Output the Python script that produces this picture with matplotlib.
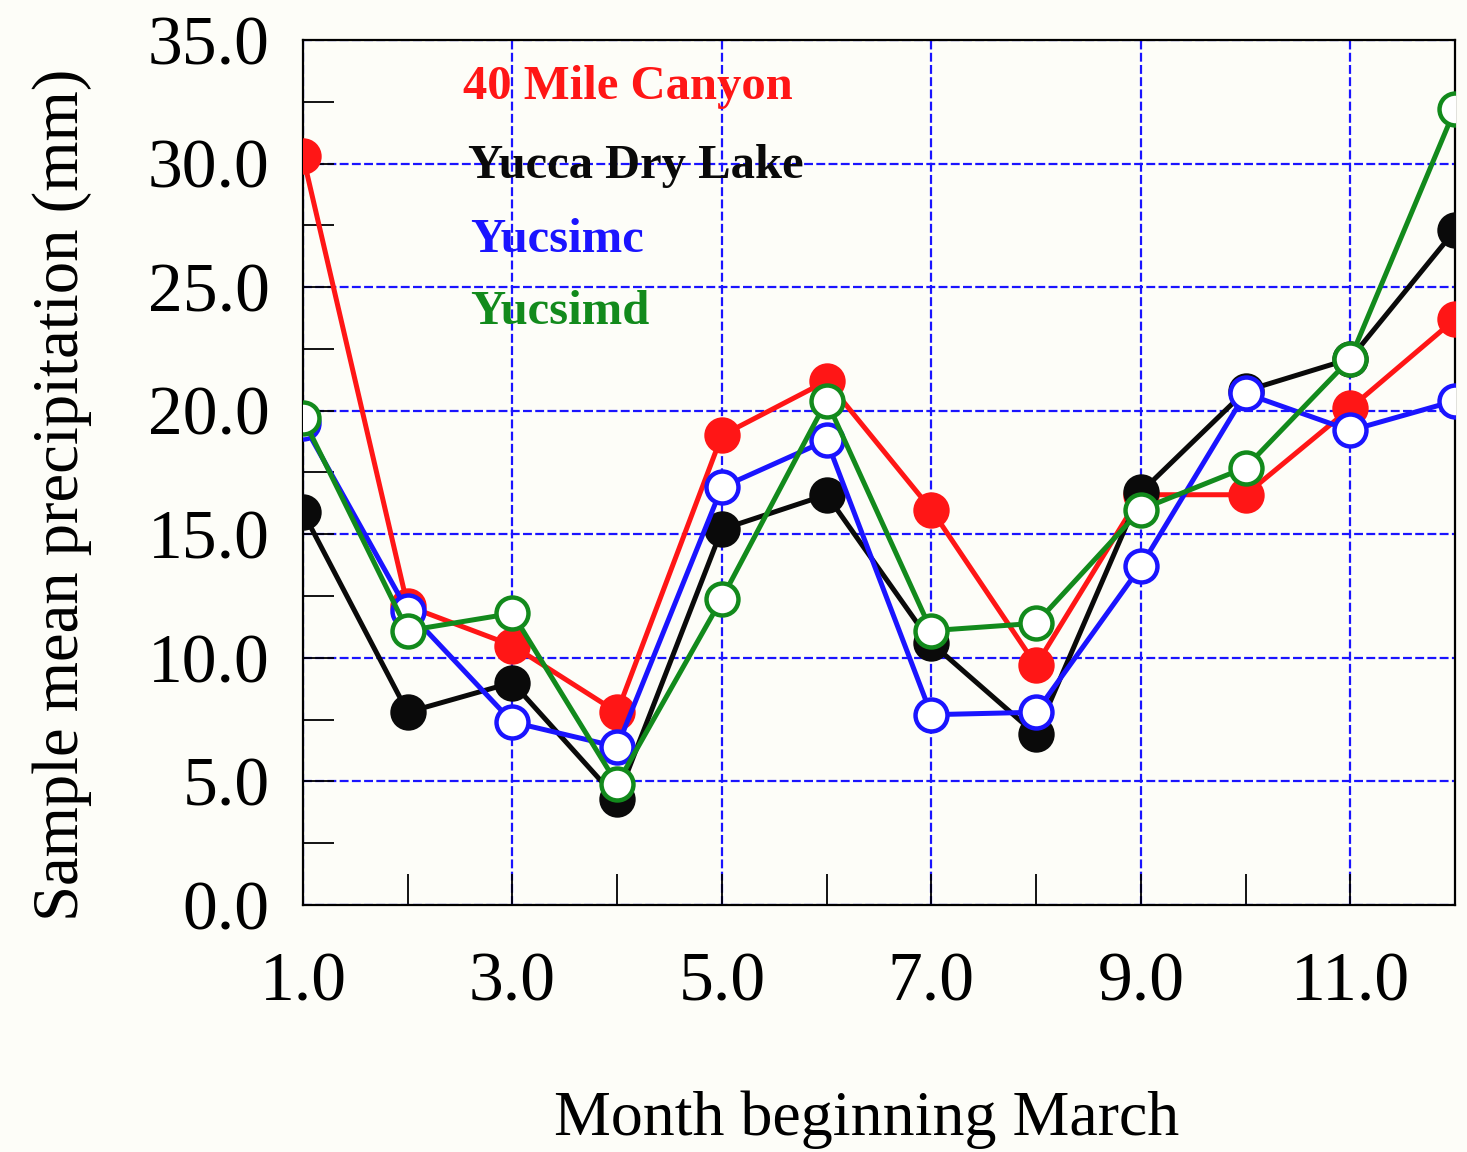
import matplotlib
matplotlib.use("Agg")
import matplotlib.pyplot as plt
from matplotlib.ticker import MultipleLocator, FixedLocator

# Monthly sample mean precipitation (mm), months counted from March
months = [1, 2, 3, 4, 5, 6, 7, 8, 9, 10, 11, 12]
mile40_canyon = [30.3, 12.1, 10.5, 7.8, 19.0, 21.2, 16.0, 9.7, 16.6, 16.6, 20.1, 23.7]
yucca_dry_lake = [15.9, 7.8, 9.0, 4.3, 15.2, 16.6, 10.6, 6.9, 16.7, 20.8, 22.1, 27.3]
yucsimc = [19.5, 11.9, 7.4, 6.4, 16.9, 18.8, 7.7, 7.8, 13.7, 20.7, 19.2, 20.4]
yucsimd = [19.7, 11.1, 11.8, 4.9, 12.4, 20.4, 11.1, 11.4, 16.0, 17.7, 22.1, 32.2]

series_names = ["40 Mile Canyon", "Yucca Dry Lake", "Yucsimc", "Yucsimd"]
x_ticks = [1, 3, 5, 7, 9, 11]
x_tick_labels = ["1.0", "3.0", "5.0", "7.0", "9.0", "11.0"]
y_ticks = [0, 5, 10, 15, 20, 25, 30, 35]
y_tick_labels = ["0.0", "5.0", "10.0", "15.0", "20.0", "25.0", "30.0", "35.0"]

RED = "#ff1616"
BLACK = "#0a0a0a"
BLUE = "#1a14ff"
GREEN = "#128a1c"
PAPER = "#fdfdf8"

plt.rcParams["font.family"] = ["Liberation Serif", "DejaVu Serif"]

fig = plt.figure(figsize=(14.67, 11.52), dpi=100, facecolor=PAPER)
ax = fig.add_axes([0.2065, 0.2144, 0.7853, 0.7509], facecolor=PAPER)

lw = 3.6
ms = 23
mew = 3.2

ax.plot(months, mile40_canyon, color=RED, lw=lw, marker="o", ms=ms,
        mfc=RED, mec=RED, mew=mew, zorder=3)
ax.plot(months, yucca_dry_lake, color=BLACK, lw=lw, marker="o", ms=ms,
        mfc=BLACK, mec=BLACK, mew=mew, zorder=4)
ax.plot(months, yucsimc, color=BLUE, lw=lw, marker="o", ms=ms,
        mfc="white", mec=BLUE, mew=mew, zorder=5)
ax.plot(months, yucsimd, color=GREEN, lw=lw, marker="o", ms=ms,
        mfc="white", mec=GREEN, mew=mew, zorder=6)

ax.set_xlim(1, 12)
ax.set_ylim(0, 35)

ax.xaxis.set_major_locator(FixedLocator(x_ticks))
ax.set_xticklabels(x_tick_labels)
ax.xaxis.set_minor_locator(FixedLocator([2, 4, 6, 8, 10]))
ax.yaxis.set_major_locator(FixedLocator(y_ticks))
ax.set_yticklabels(y_tick_labels)
ax.yaxis.set_minor_locator(MultipleLocator(2.5))

ax.tick_params(axis="both", which="major", direction="in", length=22,
               width=1.3, color="black", labelsize=50)
ax.tick_params(axis="both", which="minor", direction="in", length=22,
               width=1.3, color="black")
ax.tick_params(axis="y", which="major", pad=24)
ax.tick_params(axis="x", which="major", pad=34)

ax.grid(True, which="major", color=BLUE, lw=1.6, linestyle=(0, (4, 1.5)))
ax.set_axisbelow("line")

for sp in ax.spines.values():
    sp.set_linewidth(1.6)
    sp.set_color("black")

ax.set_ylabel("Sample mean precipitation (mm)", fontsize=46.5)
ax.yaxis.set_label_coords(-0.183, 0.474)
ax.set_xlabel("Month beginning March", fontsize=46)
ax.xaxis.set_label_coords(0.489, -0.215)

# Series names written in their line colours inside the plot
label_colors = [RED, BLACK, BLUE, GREEN]
label_x = [2.53, 2.58, 2.60, 2.60]
label_y = [33.1, 29.9, 26.9, 24.0]
for name, c, tx, ty in zip(series_names, label_colors, label_x, label_y):
    ax.text(tx, ty, name, color=c, fontsize=35, fontweight="bold",
            va="center", ha="left", zorder=7)

fig.savefig("out.png", dpi=100, facecolor=PAPER)
